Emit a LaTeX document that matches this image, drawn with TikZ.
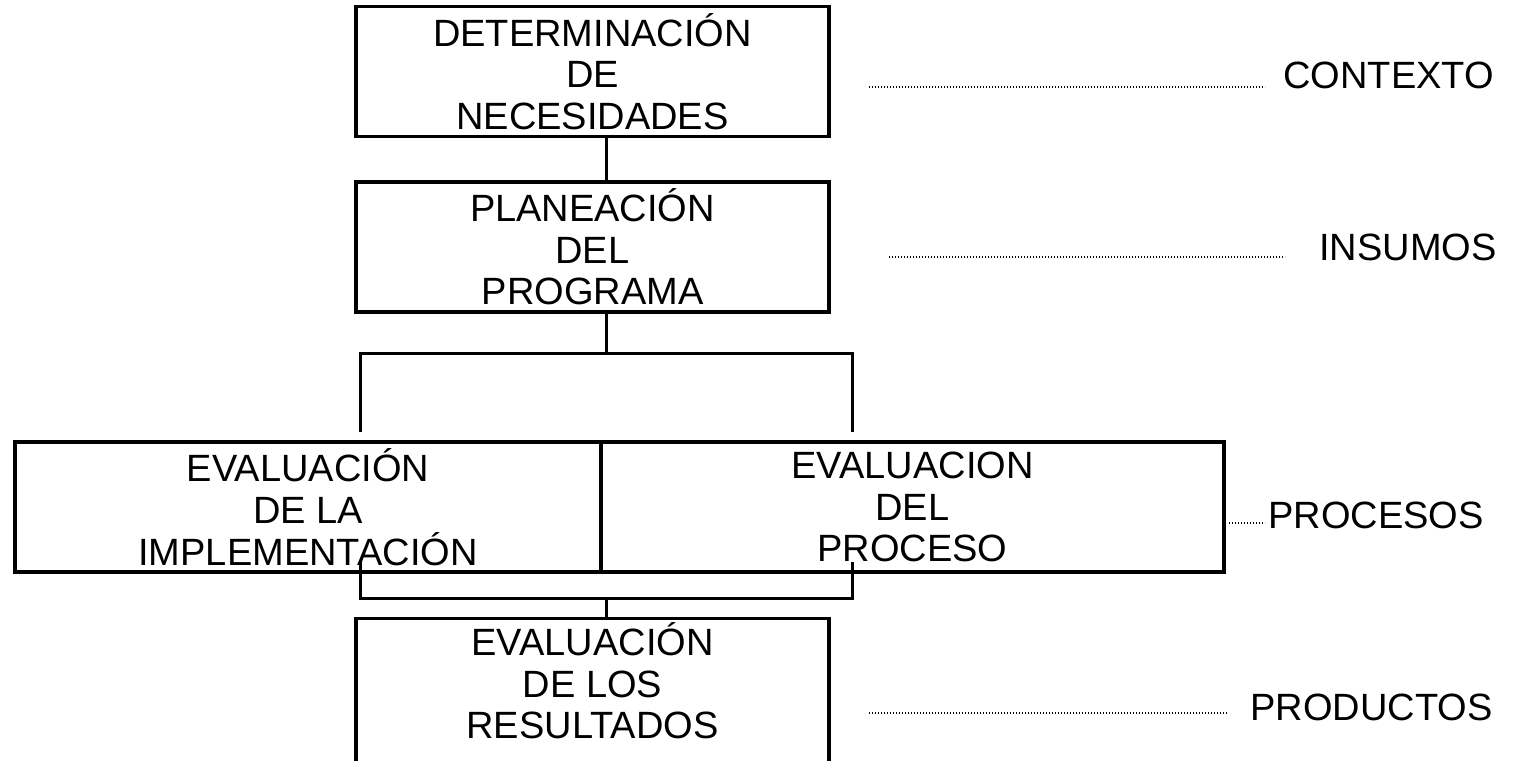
\documentclass[tikz,border=0pt]{standalone}
\usepackage{fontspec}
\setmainfont{Liberation Sans}
\begin{document}
\begin{tikzpicture}[x=0.5pt,y=-0.5pt,
        font=\fontsize{19}{20.85}\selectfont,
        box/.style={draw,line width=1.6pt,align=center,inner sep=2pt,minimum height=65pt},
        wire/.style={line width=1.5pt},
        leader/.style={line width=1pt,dash pattern=on 0.7pt off 0.8pt},
        tag/.style={anchor=base west,inner sep=0pt}]
                \useasboundingbox[fill=white] (0,0) rectangle (1514,760);

                \node[box,minimum width=236.5pt] (ctx) at (592.5,71.5) {DETERMINACIÓN\\DE\\NECESIDADES};
                \node[box,minimum width=236.5pt] (plan) at (592.5,247) {PLANEACIÓN\\DEL\\PROGRAMA};
                \node[box,minimum width=293pt] (impl) at (308,507) {EVALUACIÓN\\DE LA\\IMPLEMENTACIÓN};
                \node[box,minimum width=311.5pt] (proc) at (912.5,507) {EVALUACION\\DEL\\PROCESO};
                \node[box,minimum width=236.5pt,anchor=north,text depth=80pt] (res) at (592.5,617) {EVALUACIÓN\\DE LOS\\RESULTADOS};

                \node[tag] (lctx) at (1283,88) {CONTEXTO};
                \node[tag] (lins) at (1319,260) {INSUMOS};
                \node[tag] (lpro) at (1268,528) {PROCESOS};
                \node[tag] (lres) at (1250,720) {PRODUCTOS};

                \coordinate (spine) at (606,0);
                \coordinate (splitL) at (360,353);
                \coordinate (splitR) at (852,353);
                \coordinate (joinL) at (360,598);
                \coordinate (joinR) at (852,598);

                \draw[wire] (ctx.south -| spine) -- (plan.north -| spine);
                \draw[wire] (plan.south -| spine) -- (spine |- splitL);
                \draw[wire] ([yshift=4pt]impl.north -| splitL) -- (splitL) -- (splitR) -- ([yshift=4pt]proc.north -| splitR);
                \draw[wire] ([yshift=6pt]impl.south -| joinL) -- (joinL) -- (joinR) -- ([yshift=6pt]proc.south -| joinR);
                \draw[wire] (spine |- joinL) -- (res.north -| spine);

                \coordinate (dctx) at (869,87);
                \coordinate (dins) at (889,257);
                \coordinate (dpro) at (1229,523);
                \coordinate (dres) at (869,713);

                \draw[leader] (dctx) -- ([xshift=-9pt]lctx.west |- dctx);
                \draw[leader] (dins) -- ([xshift=-17pt]lins.west |- dins);
                \draw[leader] (dpro) -- ([xshift=-1.5pt]lpro.west |- dpro);
                \draw[leader] (dres) -- ([xshift=-11pt]lres.west |- dres);
            \end{tikzpicture}
\end{document}
